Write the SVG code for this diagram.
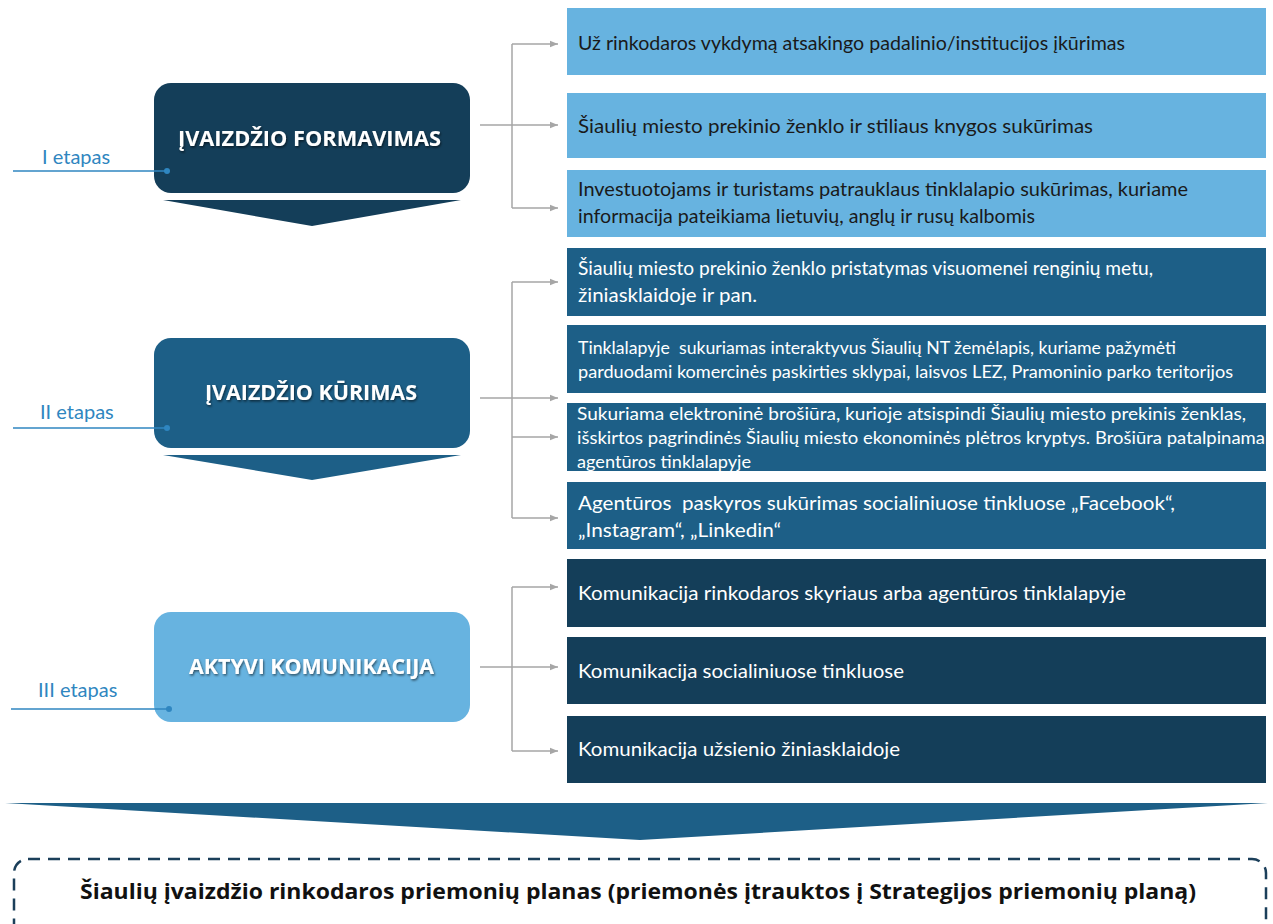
<svg xmlns="http://www.w3.org/2000/svg" width="1273" height="924" viewBox="0 0 1273 924">
<defs>
<style>
.lb{fill:#67B3E0}
.mb{fill:#1D5F87}
.db{fill:#143E59}
.t{font-family:Lato,"Open Sans",sans-serif;font-size:19px}
.ts{font-family:Lato,"Open Sans",sans-serif;font-size:16.5px;fill:#fff}
.tw{fill:#fff}
.tk{fill:#1a1a1a}
.title{font-family:"Open Sans",Lato,sans-serif;font-weight:bold;font-size:21.5px;fill:#fff;filter:url(#sh)}
.et{font-family:Lato,"Open Sans",sans-serif;font-size:20px;fill:#2F86C0}
.eline{stroke:#2F86C0;stroke-width:1.5;fill:none}
.conn{stroke:#A6A6A6;stroke-width:1.5;fill:none}
</style>
<filter id="sh" x="-10%" y="-30%" width="120%" height="160%">
<feDropShadow dx="1" dy="1.5" stdDeviation="1" flood-color="#000" flood-opacity="0.55"/>
</filter>
<marker id="ar" viewBox="0 0 10 10" refX="10" refY="5" markerWidth="8" markerHeight="8" markerUnits="userSpaceOnUse" orient="auto">
<path d="M0,1 L10,5 L0,9 Z" fill="#A6A6A6"/>
</marker>
</defs>

<g id="connectors">
<path class="conn" d="M512,44 V208"/>
<path class="conn" d="M512,44 H558" marker-end="url(#ar)"/>
<path class="conn" d="M480,125 H558" marker-end="url(#ar)"/>
<path class="conn" d="M512,208 H558" marker-end="url(#ar)"/>
<path class="conn" d="M512,282 V518"/>
<path class="conn" d="M512,282 H558" marker-end="url(#ar)"/>
<path class="conn" d="M480,398 H558" marker-end="url(#ar)"/>
<path class="conn" d="M512,437 H558" marker-end="url(#ar)"/>
<path class="conn" d="M512,518 H558" marker-end="url(#ar)"/>
<path class="conn" d="M512,587 V751"/>
<path class="conn" d="M512,587 H558" marker-end="url(#ar)"/>
<path class="conn" d="M480,667 H558" marker-end="url(#ar)"/>
<path class="conn" d="M512,751 H558" marker-end="url(#ar)"/>
</g>

<g id="stage1">
<rect class="db" x="154" y="83" width="316" height="110" rx="17"/>
<text class="title" x="178" y="146" textLength="263" lengthAdjust="spacingAndGlyphs">ĮVAIZDŽIO FORMAVIMAS</text>
<path class="db" d="M163,200 H461 L312,226 Z"/>
</g>
<g id="stage2">
<rect class="mb" x="154" y="338" width="316" height="110" rx="17"/>
<text class="title" x="205" y="400" textLength="212" lengthAdjust="spacingAndGlyphs">ĮVAIZDŽIO KŪRIMAS</text>
<path class="mb" d="M163,455 H461 L312,480 Z"/>
</g>
<g id="stage3">
<rect class="lb" x="154" y="612" width="316" height="110" rx="17"/>
<text class="title" x="189" y="674" textLength="245" lengthAdjust="spacingAndGlyphs">AKTYVI KOMUNIKACIJA</text>
</g>

<g id="label1">
<text class="et" x="42" y="164">I etapas</text>
<path class="eline" d="M13,171 H167"/>
<circle cx="167" cy="171" r="3" fill="#2F86C0"/>
</g>
<g id="label2">
<text class="et" x="40" y="419">II etapas</text>
<path class="eline" d="M13,428 H167"/>
<circle cx="167" cy="428" r="3" fill="#2F86C0"/>
</g>
<g id="label3">
<text class="et" x="38" y="697">III etapas</text>
<path class="eline" d="M11,709 H169"/>
<circle cx="169" cy="709" r="3" fill="#2F86C0"/>
</g>

<g id="b1"><rect class="lb" x="567" y="8" width="699" height="67"/>
<text class="t tk" x="578" y="50" textLength="547" lengthAdjust="spacingAndGlyphs">Už rinkodaros vykdymą atsakingo padalinio/institucijos įkūrimas</text></g>
<g id="b2"><rect class="lb" x="567" y="93" width="699" height="65"/>
<text class="t tk" x="578" y="133" textLength="515" lengthAdjust="spacingAndGlyphs">Šiaulių miesto prekinio ženklo ir stiliaus knygos sukūrimas</text></g>
<g id="b3"><rect class="lb" x="567" y="170" width="699" height="67"/>
<text class="t tk" x="578" y="196" textLength="610" lengthAdjust="spacingAndGlyphs">Investuotojams ir turistams patrauklaus tinklalapio sukūrimas, kuriame</text>
<text class="t tk" x="578" y="223" textLength="457" lengthAdjust="spacingAndGlyphs">informacija pateikiama lietuvių, anglų ir rusų kalbomis</text></g>

<g id="b4"><rect class="mb" x="567" y="248" width="699" height="68"/>
<text class="t tw" x="578" y="275" textLength="575" lengthAdjust="spacingAndGlyphs">Šiaulių miesto prekinio ženklo pristatymas visuomenei renginių metu,</text>
<text class="t tw" x="578" y="302" textLength="179" lengthAdjust="spacingAndGlyphs">žiniasklaidoje ir pan.</text></g>
<g id="b5"><rect class="mb" x="567" y="325" width="699" height="68"/>
<text class="ts" x="578" y="354" textLength="598" lengthAdjust="spacingAndGlyphs" xml:space="preserve">Tinklalapyje  sukuriamas interaktyvus Šiaulių NT žemėlapis, kuriame pažymėti</text>
<text class="ts" x="578" y="378" textLength="655" lengthAdjust="spacingAndGlyphs">parduodami komercinės paskirties sklypai, laisvos LEZ, Pramoninio parko teritorijos</text></g>
<g id="b6"><rect class="mb" x="567" y="403" width="699" height="68"/>
<text class="ts" x="577" y="420" textLength="669" lengthAdjust="spacingAndGlyphs">Sukuriama elektroninė brošiūra, kurioje atsispindi Šiaulių miesto prekinis ženklas,</text>
<text class="ts" x="577" y="444" textLength="688" lengthAdjust="spacingAndGlyphs">išskirtos pagrindinės Šiaulių miesto ekonominės plėtros kryptys. Brošiūra patalpinama</text>
<text class="ts" x="577" y="468" textLength="174" lengthAdjust="spacingAndGlyphs">agentūros tinklalapyje</text></g>
<g id="b7"><rect class="mb" x="567" y="482" width="699" height="67"/>
<text class="t tw" x="578" y="510" textLength="597" lengthAdjust="spacingAndGlyphs" xml:space="preserve">Agentūros  paskyros sukūrimas socialiniuose tinkluose „Facebook“,</text>
<text class="t tw" x="578" y="537" textLength="203" lengthAdjust="spacingAndGlyphs">„Instagram“, „Linkedin“</text></g>

<g id="b8"><rect class="db" x="567" y="559" width="699" height="68"/>
<text class="t tw" x="578" y="600" textLength="548" lengthAdjust="spacingAndGlyphs">Komunikacija rinkodaros skyriaus arba agentūros tinklalapyje</text></g>
<g id="b9"><rect class="db" x="567" y="637" width="699" height="67"/>
<text class="t tw" x="578" y="678" textLength="326" lengthAdjust="spacingAndGlyphs">Komunikacija socialiniuose tinkluose</text></g>
<g id="b10"><rect class="db" x="567" y="716" width="699" height="67"/>
<text class="t tw" x="578" y="756" textLength="322" lengthAdjust="spacingAndGlyphs">Komunikacija užsienio žiniasklaidoje</text></g>

<g id="bigArrow">
<path class="mb" d="M5,803 H1268 L640,840 Z"/>
</g>

<g id="result">
<rect x="14" y="859" width="1252" height="80" rx="14" fill="none" stroke="#1B3F5A" stroke-width="2.5" stroke-dasharray="12 8"/>
<text x="80" y="899" font-family="'Open Sans',Lato,sans-serif" font-weight="bold" font-size="22" fill="#111" textLength="1116" lengthAdjust="spacingAndGlyphs">Šiaulių įvaizdžio rinkodaros priemonių planas (priemonės įtrauktos į Strategijos priemonių planą)</text>
</g>
</svg>
